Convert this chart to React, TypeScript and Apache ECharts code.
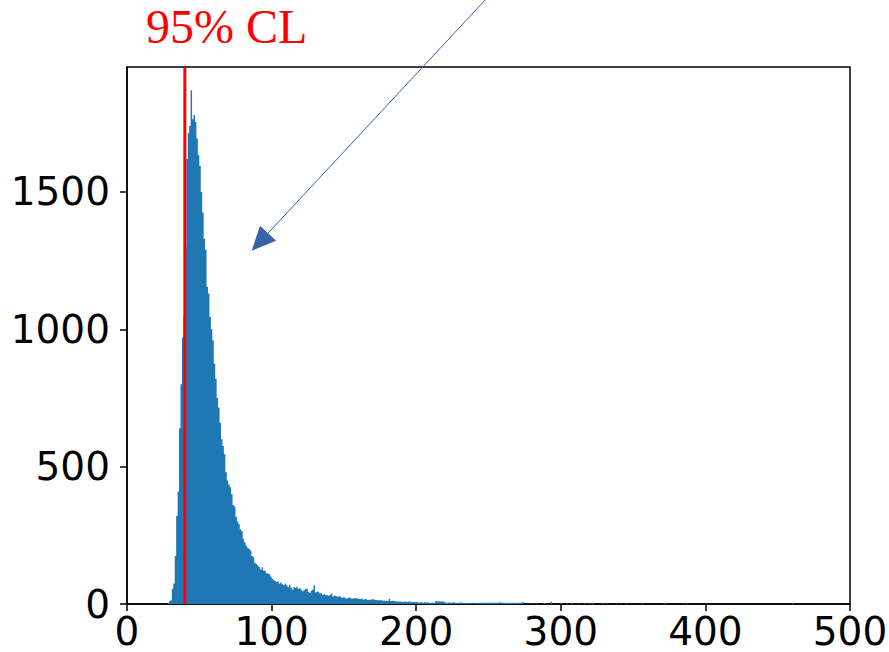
import React, { useEffect, useRef } from "react";
import * as echarts from "echarts";

// Histogram bins of width 1, dense part starts at x = 28
const binStart = 28;
const denseCounts = [
  4, 10, 14, 55, 75, 175, 320, 410, 640, 800, // 28-37
  970, 1050, 1300, 1620, 1715, 1740, 1870, 1765, 1780, 1755, // 38-47
  1695, 1635, 1595, 1500, 1425, 1330, 1290, 1155, 1130, 1045, // 48-57
  1000, 960, 875, 820, 750, 715, 660, 600, 575, 545, // 58-67
  480, 450, 435, 425, 400, 360, 355, 318, 300, 290, // 68-77
  272, 265, 238, 225, 212, 205, 200, 195, 175, 170, // 78-87
  150, 146, 140, 135, 125, 133, 122, 120, 112, 110, // 88-97
  108, 100, 92, 88, 84, 80, 83, 74, 78, 72, // 98-107
  68, 75, 68, 62, 70, 60, 52, 62, 58, 63, // 108-117
  55, 58, 52, 46, 50, 55, 57, 45, 40, 48, // 118-127
  52, 68, 42, 45, 44, 38, 40, 33, 36, 32, // 128-137
  33, 30, 34, 38, 27, 30, 29, 26, 28, 27, // 138-147
  23, 25, 24, 20, 22, 24, 23, 19, 21, 22, // 148-157
  20, 21, 18, 17, 20, 16, 17, 18, 15, 16, // 158-167
  14, 17, 16, 14, 15, 13, 15, 14, 12, 13, // 168-177
  11, 12, 10, 19, 11, 12, 11, 9, 10, 8, // 178-187
  9, 8, 7, 9, 8, 7, 9, 8, 6, 7, // 188-197
  6, 7, 6, 5, 6, 6, 5, 7, 5, 6, // 198-207
  5, 4, 5, 5, 4, 10, 9, 10, 9, 10, // 208-217
  8, 8, 5, 4, 6, 5, 3, 6, 5, 4, // 218-227
  3, 5, 6, 4, 3, 4, 5, 3, 4, 3, // 228-237
  2, 3, 4, 3, 5, 4, 5, 5, 5, 5, // 238-247
  5, 5, 5, 5, 5, 5, 5, 5, 5, 6, // 248-257
  5, 5, 5, 4, 5, 5, 4, 5, 5, 4, // 258-267
  5, 4, 5, 5, 4, 7, // 268-273
];
// Sparse tail: [bin left edge, count]
const tailBins = [
  [278, 3], [280, 3], [283, 3], [288, 4], [290, 3], [293, 8], [300, 4],
  [304, 3], [307, 4], [312, 3], [316, 3], [319, 3], [321, 3], [322, 4],
  [329, 4], [332, 3], [338, 3], [345, 3], [356, 3], [371, 3], [372, 3],
  [387, 3], [460, 4],
];
const clValue = 40;
const xTicks = [0, 100, 200, 300, 400, 500];
const yTicks = [0, 500, 1000, 1500];
const yMax = 1955;
const annotation = "95% CL";

export default function App() {
  const ref = useRef<HTMLDivElement>(null);
  useEffect(() => {
    if (!ref.current) return;
    const chart = echarts.init(ref.current, undefined, { renderer: "svg" });

    // full bin list (empty bins between tail entries are zero)
    const countsByBin = new Map<number, number>();
    denseCounts.forEach((c, i) => countsByBin.set(binStart + i, c));
    tailBins.forEach((b) => countsByBin.set(b[0], b[1]));
    const lastBin = Math.max(...Array.from(countsByBin.keys()));
    const stepData: number[][] = [];
    for (let b = binStart; b <= lastBin; b++) {
      stepData.push([b, countsByBin.get(b) ?? 0]);
    }
    stepData.push([lastBin + 1, 0]);

    // arrow geometry (annotation in pixel space)
    const tip = [251.7, 250.7];
    const start = [487, -2];
    const dx = tip[0] - start[0];
    const dy = tip[1] - start[1];
    const len = Math.sqrt(dx * dx + dy * dy);
    const ux = dx / len;
    const uy = dy / len;
    const headLen = 24;
    const halfW = 11;
    const bx = tip[0] - headLen * ux;
    const by = tip[1] - headLen * uy;
    const nx = -uy;
    const ny = ux;
    const arrowColor = "#3565a8";

    chart.setOption({
      animation: false,
      grid: {
        left: 127,
        right: 39,
        top: 67,
        bottom: 48,
        show: true,
        borderColor: "#000",
        borderWidth: 1.5,
        backgroundColor: "transparent",
        containLabel: false,
        outerBoundsMode: "none",
      },
      xAxis: {
        type: "value",
        min: 0,
        max: 500,
        interval: 100,
        axisLine: { show: true, lineStyle: { color: "#000", width: 1.5 } },
        axisTick: {
          show: true,
          inside: false,
          length: 7,
          lineStyle: { color: "#000", width: 1.5 },
          customValues: xTicks,
        },
        axisLabel: {
          color: "#000",
          fontFamily: "DejaVu Sans",
          fontSize: 39,
          margin: 8,
          customValues: xTicks,
          formatter: (v: number) => String(v),
        },
        splitLine: { show: false },
      },
      yAxis: {
        type: "value",
        min: 0,
        max: yMax,
        interval: 500,
        axisLine: { show: true, lineStyle: { color: "#000", width: 1.5 } },
        axisTick: {
          show: true,
          inside: false,
          length: 7,
          lineStyle: { color: "#000", width: 1.5 },
          customValues: yTicks,
        },
        axisLabel: {
          color: "#000",
          fontFamily: "DejaVu Sans",
          fontSize: 39,
          margin: 17,
          customValues: yTicks,
          formatter: (v: number) => String(v),
        },
        splitLine: { show: false },
      },
      series: [
        {
          type: "line",
          step: "end",
          data: stepData,
          symbol: "none",
          lineStyle: { width: 0, color: "#1f77b4" },
          areaStyle: { color: "#1f77b4", opacity: 1, origin: "start" },
          z: 2,
        },
        {
          type: "line",
          data: [
            [clValue, 0],
            [clValue, yMax],
          ],
          symbol: "none",
          lineStyle: { color: "#ff0000", width: 3 },
          z: 5,
        },
      ],
      graphic: [
        {
          type: "text",
          left: 146,
          top: 2,
          style: {
            text: annotation,
            fill: "#ff0000",
            fontFamily: "Liberation Serif",
            fontSize: 48,
          },
          z: 10,
        },
        {
          type: "line",
          shape: { x1: start[0], y1: start[1], x2: bx, y2: by },
          style: { stroke: arrowColor, lineWidth: 1 },
          z: 10,
        },
        {
          type: "polygon",
          shape: {
            points: [
              [tip[0], tip[1]],
              [bx + halfW * nx, by + halfW * ny],
              [bx - halfW * nx, by - halfW * ny],
            ],
          },
          style: { fill: arrowColor },
          z: 10,
        },
      ],
    });
    return () => chart.dispose();
  }, []);
  return (
    <div
      ref={ref}
      style={{ position: "absolute", left: 0, top: 0, width: 889, height: 652 }}
    />
  );
}
